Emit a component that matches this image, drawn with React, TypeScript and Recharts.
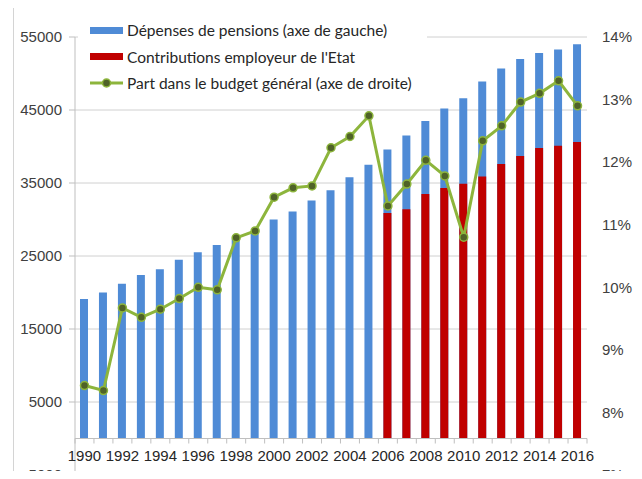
import { Bar, CartesianGrid, ComposedChart, Legend, Line, ReferenceLine, XAxis, YAxis } from "recharts";

const years = [
  "1990", "1991", "1992", "1993", "1994", "1995", "1996", "1997", "1998", "1999",
  "2000", "2001", "2002", "2003", "2004", "2005", "2006", "2007", "2008", "2009",
  "2010", "2011", "2012", "2013", "2014", "2015", "2016"
];

// dépenses de pensions (axe de gauche)
const pensions = [
  19100, 20000, 21200, 22400, 23200, 24500, 25500, 26500, 27400, 28300,
  30000, 31100, 32600, 34000, 35800, 37500, 39600, 41500, 43500, 45200,
  46600, 48900, 50700, 52000, 52800, 53300, 54000
];

// contributions employeur de l'Etat (from 2006)
const contributions = [
  null, null, null, null, null, null, null, null, null, null,
  null, null, null, null, null, null, 30900, 31400, 33500, 34300,
  34900, 35900, 37600, 38700, 39800, 40100, 40600
];

// part dans le budget général, % (axe de droite)
const budgetShare = [
  8.43, 8.35, 9.67, 9.52, 9.65, 9.82, 10.0, 9.96, 10.79, 10.9,
  11.44, 11.59, 11.62, 12.23, 12.41, 12.74, 11.3, 11.65, 12.03, 11.78,
  10.8, 12.34, 12.58, 12.96, 13.1, 13.3, 12.9
];

const leftTicks = [-5000, 5000, 15000, 25000, 35000, 45000, 55000];
const rightTicks = [7, 8, 9, 10, 11, 12, 13, 14];

const names = {
  pensions: "Dépenses de pensions (axe de gauche)",
  contributions: "Contributions employeur de l'Etat",
  share: "Part dans le budget général (axe de droite)"
};

const data = years.map((year, i) => ({
  year,
  pensions: pensions[i],
  contributions: contributions[i],
  share: budgetShare[i]
}));

const W = 642;
const H = 479;
const TOP = 37;
const BOTTOM = 3;
const X_H = 1;
const LEFT_W = 75;
const RIGHT_W = 55;
const PLOT_BOTTOM = H - BOTTOM - X_H;
const PLOT_H = PLOT_BOTTOM - TOP;
const BAND = (W - LEFT_W - RIGHT_W) / years.length;
// y of the 0 line of the left axis, where the category axis sits
const ZERO_Y = PLOT_BOTTOM - (PLOT_H * (0 - leftTicks[0])) / (leftTicks[leftTicks.length - 1] - leftTicks[0]);

const BLUE = "#4f8bd6";
const RED = "#c00000";
const GREEN = "#8db53c";
const DARK_GREEN = "#4f6228";
const AXIS = "#bfbfbf";
const FONT = "'Liberation Sans', Arial, sans-serif";

function YearTick(props: any) {
  const { x, payload, index } = props;
  const showLabel = Number(payload.value) % 2 === 0;
  return (
    <g>
      <line x1={x - BAND / 2} x2={x - BAND / 2} y1={ZERO_Y} y2={ZERO_Y + 5} stroke={AXIS} />
      {index === years.length - 1 && (
        <line x1={x + BAND / 2} x2={x + BAND / 2} y1={ZERO_Y} y2={ZERO_Y + 5} stroke={AXIS} />
      )}
      {showLabel && (
        <text x={x} y={ZERO_Y + 22} textAnchor="middle" fontSize={15} fontFamily={FONT} fill="#262626">
          {payload.value}
        </text>
      )}
    </g>
  );
}

function LegendBox() {
  const row = { display: "flex", alignItems: "center", height: 26.5 } as const;
  const label = { marginLeft: 4, color: "#262626" };
  return (
    <div style={{ background: "#fff", fontFamily: "Lato, sans-serif", fontSize: 15.5, paddingLeft: 12 }}>
      <div style={row}>
        <span style={{ width: 33, height: 7, background: BLUE, display: "inline-block" }} />
        <span style={label}>{names.pensions}</span>
      </div>
      <div style={row}>
        <span style={{ width: 33, height: 7, background: RED, display: "inline-block" }} />
        <span style={label}>{names.contributions}</span>
      </div>
      <div style={row}>
        <svg width={33} height={10}>
          <line x1={0} x2={33} y1={5} y2={5} stroke={GREEN} strokeWidth={3} />
          <circle cx={16.5} cy={5} r={4} fill={DARK_GREEN} stroke={GREEN} strokeWidth={1.5} />
        </svg>
        <span style={label}>{names.share}</span>
      </div>
    </div>
  );
}

export default function App() {
  return (
    <div style={{ position: "relative", width: W, height: H, margin: -8, background: "#fff", overflow: "hidden" }}>
      <div
        style={{
          position: "absolute",
          left: 13,
          top: 6,
          width: 620,
          height: H,
          borderTop: "2px solid #d4d4d4",
          borderLeft: "1px solid #d4d4d4"
        }}
      />
      <ComposedChart
        width={W}
        height={H}
        data={data}
        margin={{ top: TOP, right: 0, bottom: BOTTOM, left: 0 }}
        barGap={-8}
        style={{ position: "absolute", left: 0, top: 0 }}
      >
        <CartesianGrid yAxisId="left" vertical={false} stroke="#d0d0d0" />
        <XAxis
          dataKey="year"
          height={X_H}
          interval={0}
          axisLine={false}
          tickLine={false}
          tick={<YearTick />}
        />
        <YAxis
          yAxisId="left"
          width={LEFT_W}
          domain={[leftTicks[0], leftTicks[leftTicks.length - 1]]}
          ticks={leftTicks}
          interval={0}
          axisLine={{ stroke: AXIS }}
          tickLine={{ stroke: AXIS }}
          tickSize={6}
          tickMargin={7}
          tick={{ fontSize: 15, fontFamily: FONT, fill: "#404040" }}
        />
        <YAxis
          yAxisId="right"
          orientation="right"
          width={RIGHT_W}
          domain={[rightTicks[0], rightTicks[rightTicks.length - 1]]}
          ticks={rightTicks}
          interval={0}
          axisLine={false}
          tickLine={false}
          tickSize={6}
          tickMargin={9}
          tickFormatter={(v: number) => `${v}%`}
          tick={{ fontSize: 15, fontFamily: FONT, fill: "#404040", textAnchor: "start" }}
        />
        <ReferenceLine yAxisId="left" y={0} stroke={AXIS} />
        <Bar yAxisId="left" dataKey="pensions" name={names.pensions} fill={BLUE} barSize={8} isAnimationActive={false} />
        <Bar yAxisId="left" dataKey="contributions" name={names.contributions} fill={RED} barSize={8} isAnimationActive={false} />
        <Line
          yAxisId="right"
          dataKey="share"
          name={names.share}
          stroke={GREEN}
          strokeWidth={3}
          dot={{ r: 4, fill: DARK_GREEN, stroke: GREEN, strokeWidth: 1.5 }}
          isAnimationActive={false}
        />
        <Legend
          layout="vertical"
          align="center"
          verticalAlign="middle"
          content={<LegendBox />}
          wrapperStyle={{ left: 78, top: 17, width: 349, height: 80 }}
        />
      </ComposedChart>
    </div>
  );
}
